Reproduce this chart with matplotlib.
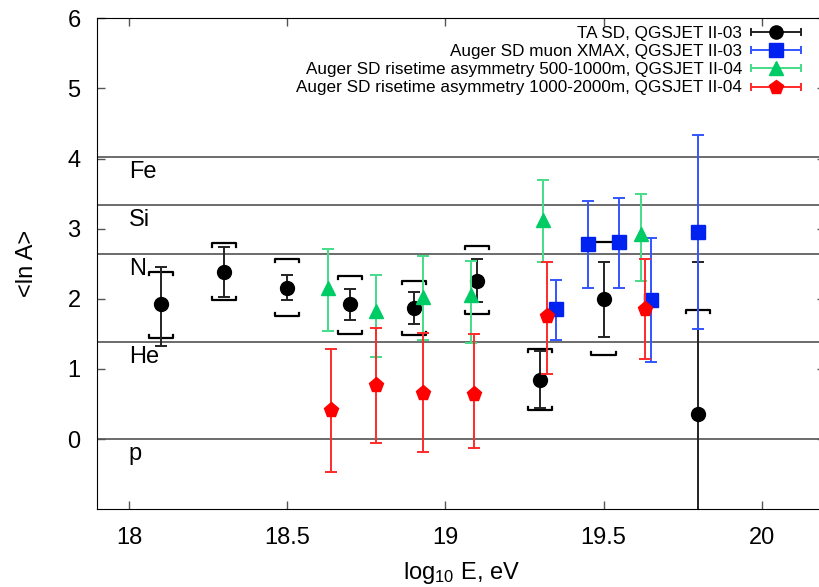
import matplotlib
matplotlib.use("Agg")
import matplotlib.pyplot as plt
from matplotlib.lines import Line2D
from matplotlib.legend_handler import HandlerBase

plt.rcParams['font.family'] = ['Liberation Sans', 'DejaVu Sans']
plt.rcParams['mathtext.default'] = 'regular'

# TA SD, QGSJET II-03 (stat. errors + systematic brackets)
ta_x = [18.1, 18.3, 18.5, 18.7, 18.9, 19.1, 19.3, 19.5, 19.8]
ta_y = [1.92, 2.38, 2.16, 1.92, 1.87, 2.26, 0.85, 2.00, 0.36]
ta_lo = [1.33, 2.02, 1.98, 1.70, 1.64, 1.96, 0.44, 1.46, -1.5]
ta_hi = [2.46, 2.74, 2.34, 2.14, 2.10, 2.57, 1.26, 2.52, 2.53]
ta_sys_lo = [1.44, 1.98, 1.76, 1.50, 1.48, 1.78, 0.42, 1.20, -1.3]
ta_sys_hi = [2.38, 2.79, 2.57, 2.33, 2.25, 2.76, 1.29, 2.81, 1.84]

# Auger SD muon XMAX, QGSJET II-03
mu_x = [19.35, 19.45, 19.55, 19.65, 19.80]
mu_y = [1.85, 2.78, 2.81, 1.98, 2.95]
mu_lo = [1.41, 2.15, 2.16, 1.10, 1.57]
mu_hi = [2.27, 3.40, 3.44, 2.87, 4.33]

# Auger SD risetime asymmetry 500-1000m, QGSJET II-04
r5_x = [18.63, 18.78, 18.93, 19.08, 19.31, 19.62]
r5_y = [2.15, 1.83, 2.03, 2.06, 3.13, 2.93]
r5_lo = [1.54, 1.17, 1.41, 1.37, 2.52, 2.26]
r5_hi = [2.71, 2.34, 2.61, 2.54, 3.69, 3.49]

# Auger SD risetime asymmetry 1000-2000m, QGSJET II-04
r10_x = [18.64, 18.78, 18.93, 19.09, 19.32, 19.63]
r10_y = [0.41, 0.77, 0.66, 0.64, 1.76, 1.86]
r10_lo = [-0.47, -0.05, -0.18, -0.13, 0.93, 1.14]
r10_hi = [1.28, 1.58, 1.51, 1.50, 2.52, 2.57]

# nuclei reference lines (ln A)
elements = ['p', 'He', 'N', 'Si', 'Fe']
ln_a = [0.0, 1.386, 2.639, 3.332, 4.025]

labels = ['TA SD, QGSJET II-03',
          'Auger SD muon XMAX, QGSJET II-03',
          'Auger SD risetime asymmetry 500-1000m, QGSJET II-04',
          'Auger SD risetime asymmetry 1000-2000m, QGSJET II-04']


def err(y, lo, hi):
    return [[v - l for v, l in zip(y, lo)], [h - v for v, h in zip(y, hi)]]


class HBarHandler(HandlerBase):
    # gnuplot-like key sample: horizontal bar with end caps and marker
    def create_artists(self, legend, orig, xdescent, ydescent, width, height,
                       fontsize, trans):
        y = height / 2 - ydescent
        x0, x1 = -xdescent, width - xdescent
        ec = orig.get_color()
        bar = Line2D([x0, x1], [y, y], color=ec, lw=1.4)
        caps = Line2D([x0, x1], [y, y], ls='none', marker='|', ms=6,
                      mew=1.4, color=ec)
        mk = Line2D([(x0 + x1) / 2], [y], ls='none', marker=orig.get_marker(),
                    ms=orig.get_markersize(), mfc=orig.get_markerfacecolor(),
                    mec=orig.get_markeredgecolor())
        for a in (bar, caps, mk):
            a.set_transform(trans)
        return [bar, caps, mk]


fig = plt.figure(figsize=(8.19, 5.87), dpi=100)
ax = fig.add_axes([0.1188, 0.1324, 0.8885, 0.8365])

for name, v in zip(elements, ln_a):
    ax.axhline(v, color='#444444', lw=1.1, zorder=1)
    ax.text(18.0, v - 0.21, name, fontsize=17, va='center', ha='left')

# systematic brackets for TA
w = 0.038
d = 0.045
for x, lo, hi in zip(ta_x, ta_sys_lo, ta_sys_hi):
    ax.plot([x - w, x - w, x + w, x + w], [hi - d, hi, hi, hi - d],
            color='black', lw=1.6, zorder=2)
    ax.plot([x - w, x - w, x + w, x + w], [lo + d, lo, lo, lo + d],
            color='black', lw=1.6, zorder=2)

styles = [
    dict(fmt='o', color='black', ecolor='#222222', ms=10),
    dict(fmt='s', color='#0022f0', ecolor='#3355ff', ms=10),
    dict(fmt='^', color='#00cc66', ecolor='#44dd88', ms=10.5),
    dict(fmt='p', color='#ff0000', ecolor='#ff2a2a', ms=11),
]
series = [(ta_x, ta_y, ta_lo, ta_hi), (mu_x, mu_y, mu_lo, mu_hi),
          (r5_x, r5_y, r5_lo, r5_hi), (r10_x, r10_y, r10_lo, r10_hi)]

handles = []
for i, ((x, y, lo, hi), st) in enumerate(zip(series, styles)):
    ax.errorbar(x, y, yerr=err(y, lo, hi), fmt=st['fmt'], color=st['color'],
                ecolor=st['ecolor'], ms=st['ms'], mec=st['color'],
                elinewidth=1.4, capsize=4, capthick=1.4, zorder=3 + i)
    handles.append(Line2D([], [], color=st['ecolor'], marker=st['fmt'],
                          ms=st['ms'] * 0.95, mfc=st['color'],
                          mec=st['color']))

ax.set_xlim(17.9, 20.2)
ax.set_ylim(-1, 6)
ax.set_xticks([18, 18.5, 19, 19.5, 20])
ax.set_xticklabels(['18', '18.5', '19', '19.5', '20'])
ax.set_yticks(range(0, 7))
ax.tick_params(direction='in', length=6, width=1, color='#555555',
               labelsize=17, top=True, right=True)
ax.tick_params(axis='x', pad=13)
ax.tick_params(axis='y', pad=12)
ax.set_xlabel('log$_{10}$ E, eV', fontsize=17, labelpad=8)
ax.set_ylabel('<ln A>', fontsize=17, labelpad=21)

leg = ax.legend(handles, labels, loc='upper right',
                bbox_to_anchor=(801 / 819, 1 - 26 / 587),
                bbox_transform=fig.transFigure, frameon=False,
                fontsize=12.3, labelspacing=0.185,
                handlelength=2.9, handletextpad=0.55, borderpad=0,
                borderaxespad=0, markerfirst=False,
                handler_map={Line2D: HBarHandler()})

fig.savefig('out.png', dpi=100)
